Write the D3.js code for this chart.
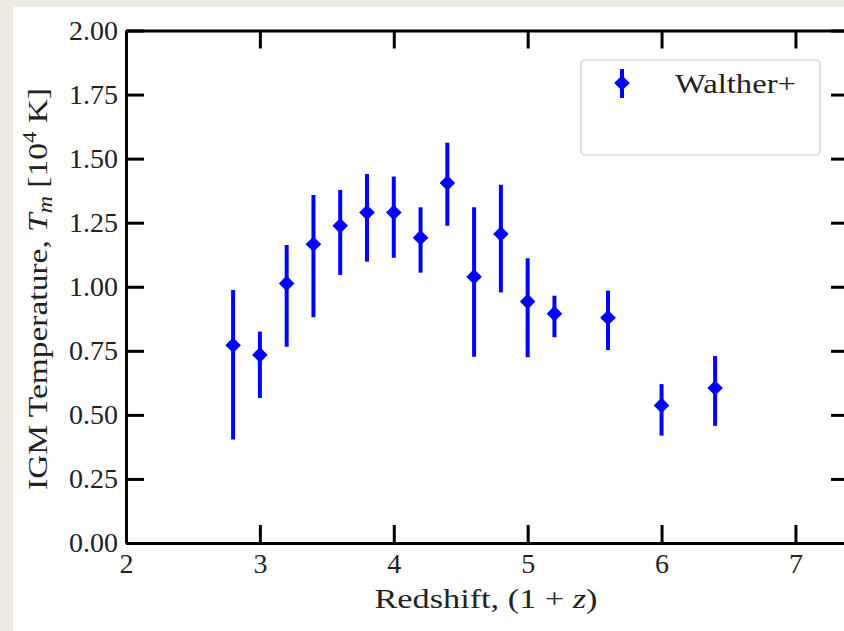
<!DOCTYPE html>
<meta charset="utf-8">
<style>
body { margin: 0; background: #eeebe3; }
svg { display: block; }
text { font-family: 'Liberation Serif', serif; fill: #222; }
</style>
<svg width="844" height="631"></svg>
<script src="https://d3js.org/d3.v7.min.js"></script>
<script>
// redshift (1+z), temperature [1e4 K], lower and upper ends of the error bars
var zvals  = [2.8, 3.0, 3.2, 3.4, 3.6, 3.8, 4.0, 4.2, 4.4, 4.6, 4.8, 5.0, 5.2, 5.6, 6.0, 6.4];
var temps  = [0.772, 0.734, 1.013, 1.166, 1.238, 1.290, 1.290, 1.191, 1.405, 1.039, 1.206, 0.942, 0.895, 0.879, 0.537, 0.605];
var tLow   = [0.404, 0.566, 0.766, 0.881, 1.046, 1.098, 1.113, 1.055, 1.238, 0.727, 0.978, 0.725, 0.803, 0.753, 0.419, 0.457];
var tHigh  = [0.987, 0.825, 1.163, 1.358, 1.378, 1.440, 1.430, 1.310, 1.562, 1.310, 1.398, 1.111, 0.965, 0.985, 0.620, 0.730];
var xTicks = [2, 3, 4, 5, 6, 7];
var yTicks = [0, 0.25, 0.5, 0.75, 1.0, 1.25, 1.5, 1.75, 2.0];
var seriesName = "Walther+";

var svg = d3.select("svg");
var mLeft = 126, mRight = 849, mTop = 30.5, mBottom = 543;

svg.append("rect").attr("x", 13).attr("y", 7).attr("width", 844).attr("height", 640).attr("fill", "#fff");

var x = d3.scaleLinear().domain([2, 7.4]).range([mLeft, mRight]);
var y = d3.scaleLinear().domain([0, 2]).range([mBottom, mTop]);

var pts = zvals.map(function(z, i) { return {z: z, t: temps[i], lo: tLow[i], hi: tHigh[i]}; });

// error bars and diamonds
var g = svg.append("g");
g.selectAll("line.err").data(pts).enter().append("line")
    .attr("class", "err")
    .attr("x1", function(d) { return x(d.z); }).attr("x2", function(d) { return x(d.z); })
    .attr("y1", function(d) { return y(d.lo); }).attr("y2", function(d) { return y(d.hi); })
    .attr("stroke", "#0000ff").attr("stroke-width", 4);

var diamond = d3.symbol().type(d3.symbolDiamond2).size(155);
g.selectAll("path.pt").data(pts).enter().append("path")
    .attr("class", "pt")
    .attr("d", diamond)
    .attr("transform", function(d) { return "translate(" + x(d.z) + "," + y(d.t) + ")"; })
    .attr("fill", "#0000ff");

// axes, ticks pointing inward on all four sides
var tl = 18;
svg.append("g").attr("transform", "translate(0," + mBottom + ")")
    .call(d3.axisBottom(x).tickValues(xTicks).tickSizeInner(-tl).tickSizeOuter(0).tickPadding(10).tickFormat(d3.format("d")))
    .call(styleAxis);
svg.append("g").attr("transform", "translate(0," + mTop + ")")
    .call(d3.axisTop(x).tickValues(xTicks).tickSizeInner(-tl).tickSizeOuter(0).tickFormat(""))
    .call(styleAxis);
svg.append("g").attr("transform", "translate(" + mLeft + ",0)")
    .call(d3.axisLeft(y).tickValues(yTicks).tickSizeInner(-tl).tickSizeOuter(0).tickPadding(8).tickFormat(d3.format(".2f")))
    .call(styleAxis);
svg.append("g").attr("transform", "translate(" + mRight + ",0)")
    .call(d3.axisRight(y).tickValues(yTicks).tickSizeInner(-tl).tickSizeOuter(0).tickFormat(""))
    .call(styleAxis);

function styleAxis(sel) {
  sel.select(".domain").attr("stroke", "#000").attr("stroke-width", 3);
  sel.selectAll(".tick line").attr("stroke", "#000").attr("stroke-width", 3);
  sel.selectAll(".tick text").attr("font-family", "'Liberation Serif', serif")
     .attr("font-size", 28).attr("fill", "#222");
}

// axis titles
var xl = svg.append("text").attr("x", 486).attr("y", 608).attr("text-anchor", "middle")
    .attr("font-size", 28).attr("textLength", 223).attr("lengthAdjust", "spacingAndGlyphs");
xl.append("tspan").text("Redshift, (1 + ");
xl.append("tspan").attr("font-style", "italic").text("z");
xl.append("tspan").text(")");

var yl = svg.append("text").attr("transform", "translate(47,289) rotate(-90)").attr("text-anchor", "middle")
    .attr("font-size", 28).attr("textLength", 402).attr("lengthAdjust", "spacingAndGlyphs");
yl.append("tspan").text("IGM Temperature, ");
yl.append("tspan").attr("font-style", "italic").text("T");
yl.append("tspan").attr("font-style", "italic").attr("font-size", 20).attr("dy", 5).text("m");
yl.append("tspan").attr("dy", -5).text(" [10");
yl.append("tspan").attr("font-size", 19).attr("dy", -11).text("4");
yl.append("tspan").attr("dy", 11).text(" K]");

// legend
var lg = svg.append("g");
lg.append("rect").attr("x", 581).attr("y", 60).attr("width", 239).attr("height", 95)
    .attr("rx", 4).attr("fill", "#fff").attr("stroke", "#ccc").attr("stroke-width", 1.2);
lg.append("line").attr("x1", 622).attr("x2", 622).attr("y1", 69).attr("y2", 98)
    .attr("stroke", "#0000ff").attr("stroke-width", 4);
lg.append("path").attr("d", diamond).attr("transform", "translate(622,83)").attr("fill", "#0000ff");
lg.append("text").attr("x", 675).attr("y", 93).attr("font-size", 28)
    .attr("textLength", 121).attr("lengthAdjust", "spacingAndGlyphs").text(seriesName);
</script>
